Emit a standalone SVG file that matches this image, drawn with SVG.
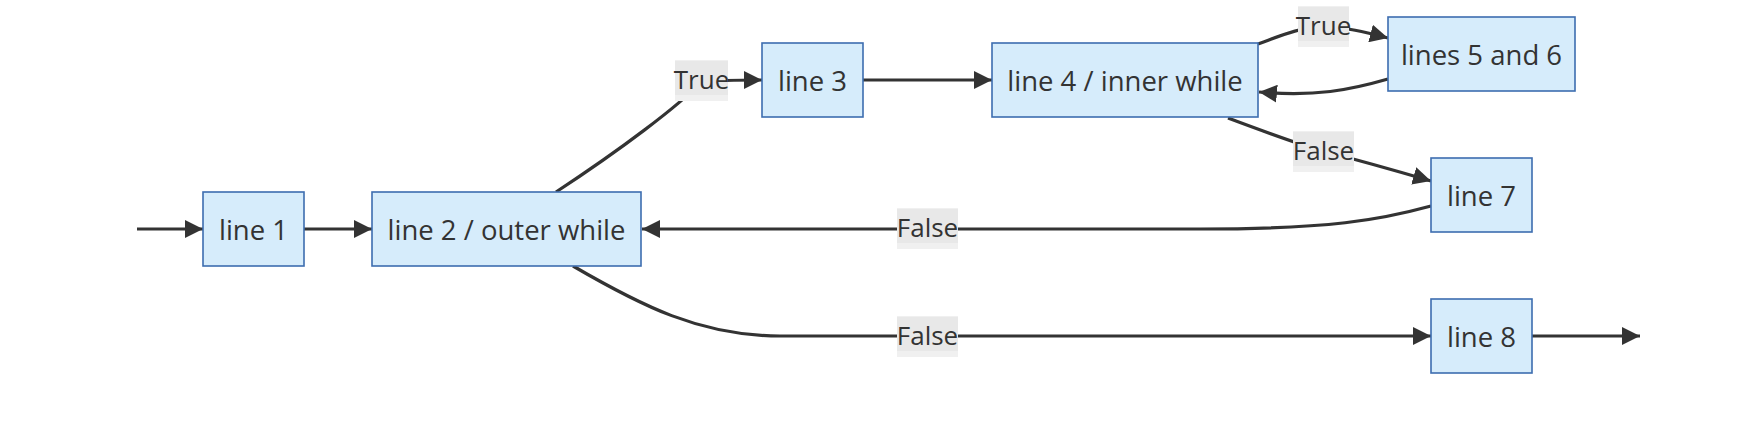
<svg xmlns="http://www.w3.org/2000/svg" width="1754" height="428" viewBox="0 0 1754 428">
<style>
.node rect{fill:#d6ecfb;stroke:#3d6db0;stroke-width:1.6}
.node text{font-family:"Open Sans","Noto Sans","DejaVu Sans",sans-serif;font-size:27.5px;fill:#333;text-anchor:middle;dominant-baseline:central}
.edge{fill:none;stroke:#333;stroke-width:3.2}
.lbl rect.o{fill:#f0f0f0}
.lbl rect.i{fill:#e8e8e8}
.lbl text{font-family:"Open Sans","Noto Sans","DejaVu Sans",sans-serif;font-size:26px;fill:#333;text-anchor:middle;dominant-baseline:central}
</style>
<defs>
<marker id="arr" viewBox="0 0 10 10" refX="10" refY="5" markerUnits="userSpaceOnUse" markerWidth="18" markerHeight="18" orient="auto">
<path d="M0,0 L10,5 L0,10 z" fill="#333"/>
</marker>
</defs>
<rect width="1754" height="428" fill="#fff"/>
<g id="connectors">
<path class="edge" marker-end="url(#arr)" d="M137,229 L203,229"/>
<path class="edge" marker-end="url(#arr)" d="M304,229 L372,229"/>
<path class="edge" marker-end="url(#arr)" d="M556,192 C620,150 680,105 701,82 C720,80 740,80 762,80"/>
<path class="edge" marker-end="url(#arr)" d="M863,80 L992,80"/>
<path class="edge" marker-end="url(#arr)" d="M1258,44 C1280,36 1300,27 1323,27 C1345,27 1365,32 1388,38"/>
<path class="edge" marker-end="url(#arr)" d="M1388,79 C1350,90 1315,97 1259,92"/>
<path class="edge" marker-end="url(#arr)" d="M1228,118 C1260,130 1300,145 1323,151 C1350,158 1390,169 1431,181"/>
<path class="edge" marker-end="url(#arr)" d="M1431,206 C1380,220 1330,229 1200,229 L642,229"/>
<path class="edge" marker-end="url(#arr)" d="M573,266 C640,305 700,336 780,336 L1431,336"/>
<path class="edge" marker-end="url(#arr)" d="M1532,336 L1640,336"/>
</g>
<g id="edge-labels">
<g class="lbl"><rect class="o" x="675" y="60" width="53" height="41"/><rect class="i" x="675" y="61" width="53" height="34"/><text x="701.5" y="79">True</text></g>
<g class="lbl"><rect class="o" x="1298" y="6" width="51" height="41"/><rect class="i" x="1298" y="7" width="51" height="34"/><text x="1323.5" y="25">True</text></g>
<g class="lbl"><rect class="o" x="1293" y="131" width="61" height="41"/><rect class="i" x="1293" y="132" width="61" height="34"/><text x="1323.5" y="150">False</text></g>
<g class="lbl"><rect class="o" x="897" y="208" width="61" height="41"/><rect class="i" x="897" y="209" width="61" height="34"/><text x="927.5" y="227">False</text></g>
<g class="lbl"><rect class="o" x="897" y="316" width="61" height="41"/><rect class="i" x="897" y="317" width="61" height="34"/><text x="927.5" y="335">False</text></g>
</g>
<g id="node-line1" class="node"><rect x="203" y="192" width="101" height="74"/><text x="253.5" y="229">line 1</text></g>
<g id="node-line2" class="node"><rect x="372" y="192" width="269" height="74"/><text x="506.5" y="229">line 2 / outer while</text></g>
<g id="node-line3" class="node"><rect x="762" y="43" width="101" height="74"/><text x="812.5" y="80">line 3</text></g>
<g id="node-line4" class="node"><rect x="992" y="43" width="266" height="74"/><text x="1125" y="80">line 4 / inner while</text></g>
<g id="node-lines56" class="node"><rect x="1388" y="17" width="187" height="74"/><text x="1481.5" y="54">lines 5 and 6</text></g>
<g id="node-line7" class="node"><rect x="1431" y="158" width="101" height="74"/><text x="1481.5" y="195">line 7</text></g>
<g id="node-line8" class="node"><rect x="1431" y="299" width="101" height="74"/><text x="1481.5" y="336">line 8</text></g>
</svg>
